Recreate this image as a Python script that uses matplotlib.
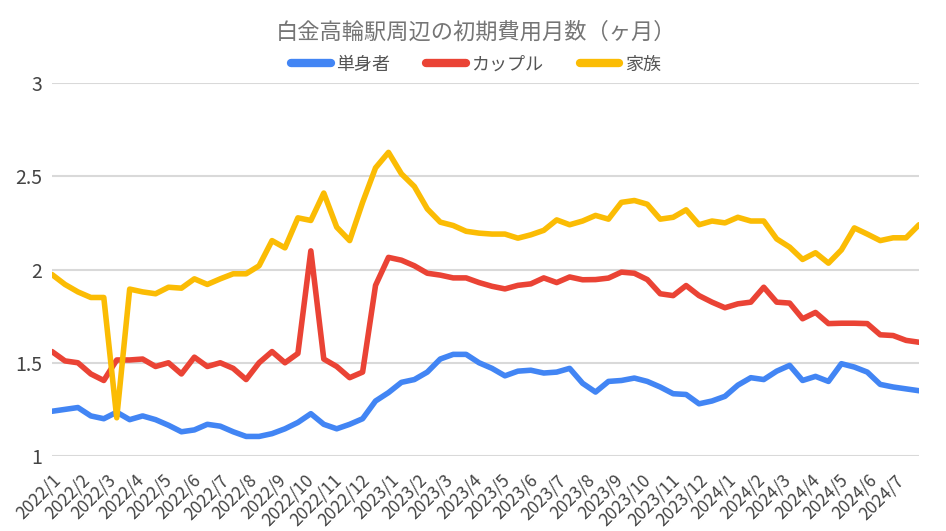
import matplotlib
matplotlib.use("Agg")
import matplotlib.pyplot as plt
import matplotlib.dates as mdates
import pandas as pd

plt.rcParams['font.family'] = ['Noto Sans CJK JP', 'DejaVu Sans']

title = "白金高輪駅周辺の初期費用月数（ヶ月）"
series_names = ["単身者", "カップル", "家族"]
colors = ["#4285F4", "#EA4335", "#FBBC04"]

start_date = "2022-01-01"
n_points = 68
dates = pd.date_range(start_date, periods=n_points, freq="14D")

single = [1.24, 1.25, 1.26, 1.215, 1.20, 1.235, 1.195, 1.215, 1.195, 1.165,
          1.13, 1.14, 1.17, 1.16, 1.13, 1.105, 1.105, 1.12, 1.146, 1.18,
          1.227, 1.17, 1.146, 1.17, 1.20, 1.295, 1.34, 1.395, 1.41, 1.45,
          1.52, 1.545, 1.545, 1.50, 1.47, 1.43, 1.455, 1.46, 1.445, 1.45,
          1.47, 1.39, 1.343, 1.40, 1.405, 1.418, 1.40, 1.37, 1.334, 1.33,
          1.28, 1.295, 1.32, 1.38, 1.42, 1.41, 1.455, 1.486, 1.405, 1.427,
          1.40, 1.495, 1.477, 1.45, 1.384, 1.37, 1.36, 1.35]

couple = [1.56, 1.51, 1.50, 1.44, 1.405, 1.515, 1.515, 1.52, 1.48, 1.50,
          1.44, 1.53, 1.48, 1.50, 1.47, 1.41, 1.50, 1.56, 1.50, 1.55,
          2.10, 1.52, 1.48, 1.42, 1.45, 1.915, 2.065, 2.05, 2.02, 1.98,
          1.97, 1.955, 1.955, 1.93, 1.91, 1.896, 1.915, 1.923, 1.955, 1.93,
          1.96, 1.945, 1.946, 1.954, 1.986, 1.98, 1.946, 1.87, 1.86, 1.914,
          1.86, 1.825, 1.795, 1.816, 1.825, 1.905, 1.825, 1.82, 1.736, 1.77,
          1.71, 1.712, 1.712, 1.71, 1.65, 1.646, 1.62, 1.61]

family = [1.973, 1.92, 1.88, 1.85, 1.85, 1.205, 1.895, 1.88, 1.87, 1.905,
          1.90, 1.95, 1.92, 1.95, 1.977, 1.977, 2.02, 2.155, 2.116, 2.277,
          2.263, 2.41, 2.227, 2.155, 2.36, 2.545, 2.628, 2.513, 2.445, 2.325,
          2.254, 2.236, 2.205, 2.195, 2.19, 2.19, 2.168, 2.186, 2.21, 2.266,
          2.24, 2.26, 2.29, 2.27, 2.36, 2.37, 2.35, 2.27, 2.28, 2.32,
          2.24, 2.26, 2.25, 2.28, 2.26, 2.26, 2.164, 2.12, 2.054, 2.09,
          2.034, 2.105, 2.223, 2.19, 2.155, 2.17, 2.17, 2.24]

y_ticks = [1, 1.5, 2, 2.5, 3]
y_tick_labels = ["1", "1.5", "2", "2.5", "3"]
x_tick_dates = pd.date_range("2022-01-01", "2024-07-01", freq="MS")
x_tick_labels = [f"{d.year}/{d.month}" for d in x_tick_dates]

fig = plt.figure(figsize=(9.46, 5.31), dpi=100)
ax = fig.add_axes([0.055, 0.1412, 0.9165, 0.7025])

for vals, name, c in zip([single, couple, family], series_names, colors):
    ax.plot(dates, vals, color=c, lw=4.0, label=name,
            solid_joinstyle='round', solid_capstyle='round', zorder=3)

ax.set_ylim(1, 3)
ax.set_xlim(dates[0], dates[-1])
ax.set_yticks(y_ticks)
ax.set_yticklabels(y_tick_labels, fontsize=14, color="#444444")
ax.set_xticks(x_tick_dates)
ax.set_xticklabels(x_tick_labels, rotation=45, ha='right', rotation_mode='anchor',
                   fontsize=12.5, color="#444444")
ax.tick_params(axis='both', length=0)
ax.tick_params(axis='y', pad=7)
ax.tick_params(axis='x', pad=11)
ax.grid(axis='y', color="#d9d9d9", lw=1.5, zorder=0)
ax.grid(axis='x', visible=False)
for s in ax.spines.values():
    s.set_visible(False)

fig.text(0.503, 0.94, title, ha='center', va='center', fontsize=16, color="#757575")
leg = fig.legend(loc='center', bbox_to_anchor=(0.503, 0.878), ncol=3, frameon=False,
                 fontsize=13, handlelength=2.2, handletextpad=0.3, columnspacing=2.0)
for t in leg.get_texts():
    t.set_color("#555555")
for h in leg.get_lines():
    h.set_linewidth(6)
    h.set_solid_capstyle('round')

fig.savefig("out.png", dpi=100)
